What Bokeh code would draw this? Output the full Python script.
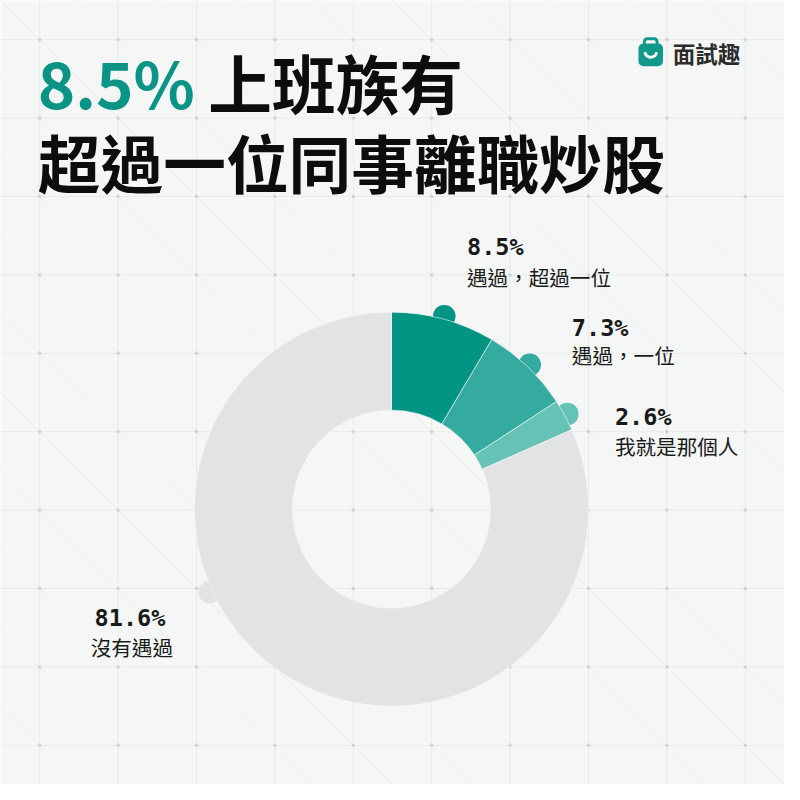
import math
from bokeh.plotting import figure
from bokeh.models import Range1d
from bokeh.core.properties import value
from bokeh.embed import file_html
from bokeh.resources import INLINE

# ---- data ----
categories = ["遇過，超過一位", "遇過，一位", "我就是那個人", "沒有遇過"]
shares = [8.5, 7.3, 2.6, 81.6]
share_labels = ["8.5%", "7.3%", "2.6%", "81.6%"]
colors = ["#009483", "#35ab9f", "#67c2b6", "#e2e3e5"]
marker_frac = [0.5, 0.5, 0.5, 0.61]  # where along each slice the knob sits

title_highlight = "8.5%"
title_rest = "上班族有"
title_line2 = "超過一位同事離職炒股"
brand = "面試趣"

# ---- layout ----
W = 784
S = W / 800.0
def Y(yp):
    return 800 - yp
def px(v):
    return "%.2fpx" % (v * S)

p = figure(width=W, height=W, x_range=Range1d(0, 800), y_range=Range1d(0, 800),
           output_backend="svg", toolbar_location=None, min_border=0,
           background_fill_color="#f5f7f6", border_fill_color="#f5f7f6",
           outline_line_color=None)
p.axis.visible = False
p.grid.visible = False

# background grid
gx = list(range(40, 800, 80))
p.segment(x0=gx, y0=[-100] * len(gx), x1=gx, y1=[900] * len(gx),
          line_color="#e9ebeb", line_width=1)
p.segment(x0=[-100] * len(gx), y0=[Y(v) for v in gx], x1=[900] * len(gx),
          y1=[Y(v) for v in gx], line_color="#e9ebeb", line_width=1)
cs = list(range(-800, 801, 80))
p.segment(x0=[-200] * len(cs), y0=[Y(-200 + c) for c in cs],
          x1=[1000] * len(cs), y1=[Y(1000 + c) for c in cs],
          line_color="#eceeee", line_width=1)
ix, iy = [], []
for a in gx:
    for b in gx:
        ix.append(a)
        iy.append(Y(b))
p.scatter(ix, iy, size=2.5, color="#d0d2d3")

# donut
cx, cy = 399, Y(519)
r_out, r_in = 201, 101
starts, ends, mids = [], [], []
cum = 0.0
total = sum(shares)
for s, f in zip(shares, marker_frac):
    a0 = math.pi / 2 - 2 * math.pi * cum / total
    a1 = math.pi / 2 - 2 * math.pi * (cum + s) / total
    starts.append(a0)
    ends.append(a1)
    mids.append(a0 + (a1 - a0) * f)
    cum += s

kx = [cx + 204 * math.cos(m) for m in mids]
ky = [cy + 204 * math.sin(m) for m in mids]
p.circle(kx, ky, radius=11.5, fill_color=colors, line_color=None)
p.annular_wedge(x=[cx] * 4, y=[cy] * 4, inner_radius=r_in, outer_radius=r_out,
                start_angle=starts, end_angle=ends, direction="clock",
                fill_color=colors, line_color="#f5f7f6", line_width=0.6)

# labels
lab_x = [476, 583, 627, 96]
num_y = [252, 334, 425, 630]
sub_x = [476, 583, 627, 92]
sub_y = [282, 362, 455, 660]
p.text(x=lab_x, y=[Y(v) for v in num_y], text=share_labels,
       text_font=value("DejaVu Sans Mono"), text_font_style="bold",
       text_font_size=px(24), text_color="#1a1a1a",
       text_align="left", text_baseline="middle")
p.text(x=sub_x, y=[Y(v) for v in sub_y], text=categories,
       text_font=value("Noto Sans CJK TC"), text_font_size=px(21),
       text_color="#1a1a1a", text_align="left", text_baseline="middle")

# title
p.text(x=[38], y=[Y(82)], text=[title_highlight], text_font=value("Noto Sans CJK TC"),
       text_font_style="bold", text_font_size=px(65), text_color="#0a9485",
       text_align="left", text_baseline="middle")
p.text(x=[212], y=[Y(82)], text=[title_rest], text_font=value("Noto Sans CJK TC"),
       text_font_style="bold", text_font_size=px(65), text_color="#0d0d0d",
       text_align="left", text_baseline="middle")
p.text(x=[38], y=[Y(163)], text=[title_line2], text_font=value("Noto Sans CJK TC"),
       text_font_style="bold", text_font_size=px(64), text_color="#0d0d0d",
       text_align="left", text_baseline="middle")

# brand logo
p.quad(left=[657], right=[670], bottom=[Y(48)], top=[Y(39)], fill_color=None,
       line_color="#10998a", line_width=3 * S, border_radius=3)
p.quad(left=[651], right=[676], bottom=[Y(67)], top=[Y(44)], fill_color="#10998a",
       line_color=None, border_radius=5)
p.arc(x=[663.5], y=[Y(52)], radius=6, start_angle=math.pi + 0.15,
      end_angle=2 * math.pi - 0.15, line_color="white", line_width=3 * S)
p.text(x=[686], y=[Y(54)], text=[brand], text_font=value("Noto Sans CJK TC"),
       text_font_style="bold", text_font_size=px(23), text_color="#2b2b2b",
       text_align="left", text_baseline="middle")

open("out.html", "w").write(file_html(p, INLINE))
